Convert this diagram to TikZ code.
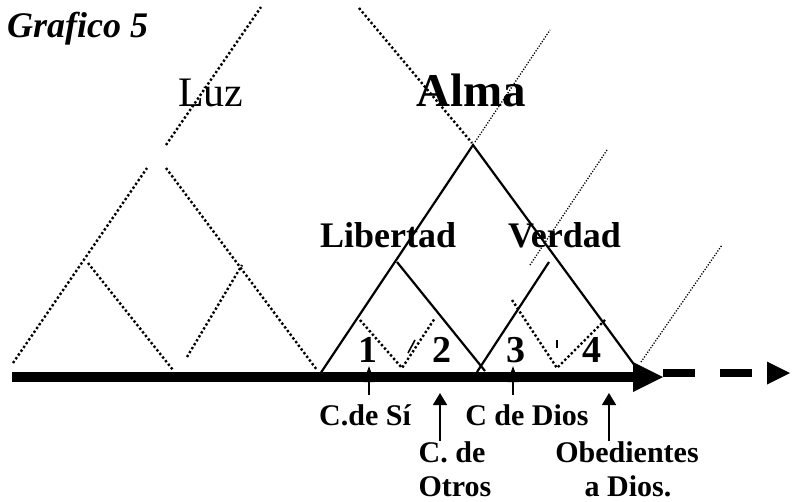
\documentclass[tikz,border=0pt]{standalone}
\usepackage{fontspec}
\setmainfont{Liberation Serif}
\usetikzlibrary{arrows.meta}
\tikzset{
    solida/.style={draw=black, line width=2.2pt},
    puntos/.style={draw=black, line width=2.4pt, dash pattern=on 2.3pt off 2.3pt},
    puntosfinos/.style={draw=black, line width=1.3pt, dash pattern=on 1.2pt off 1.6pt},
    eje/.style={draw=black, line width=10pt},
    ejeguion/.style={draw=black, line width=8pt, dash pattern=on 32pt off 25pt},
    flechita/.style={draw=black, line width=1.6pt, -{Triangle[length=12pt,width=14pt]}},
    oculta/.style={draw=black, line width=1.6pt, -{Triangle[length=16pt,width=11pt]}},
    titulo/.style={inner sep=0pt, anchor=base west, font=\fontsize{36}{43}\selectfont\bfseries\itshape},
    normal/.style={inner sep=0pt, anchor=base west, font=\fontsize{42}{50}\selectfont},
    grande/.style={inner sep=0pt, anchor=base west, font=\fontsize{47}{56}\selectfont\bfseries},
    etiqueta/.style={inner sep=0pt, anchor=base west, font=\fontsize{36}{43}\selectfont\bfseries},
    numero/.style={inner sep=0pt, anchor=base, font=\fontsize{38}{45}\selectfont\bfseries},
    rotulo/.style={inner sep=0pt, anchor=base, font=\fontsize{30}{36}\selectfont\bfseries},
}

\begin{document}
\begin{tikzpicture}[x=1pt, y=-1pt]
		\useasboundingbox (0,0) rectangle (794,501);
		% textos
		\node[titulo] (grafico) at (7,37) {Grafico 5};
		\node[normal] (luz) at (178,106) {Luz};
		\node[grande] (alma) at (416,106) {Alma};
		\node[etiqueta] (libertad) at (320,247) {Libertad};
		\node[etiqueta] (verdad) at (508,247) {Verdad};
		\node[numero] (uno) at (368,362) {1};
		\node[numero] (dos) at (442,362) {2};
		\node[numero] (tres) at (516,362) {3};
		\node[numero] (cuatro) at (592,362) {4};
		\node[rotulo] (cdesi) at (365,425) {C.de Sí};
		\node[rotulo] (cdedios) at (527,425) {C de Dios};
		\node[rotulo] (cde) at (452,462) {C. de};
		\node[rotulo] (otros) at (455,496) {Otros};
		\node[rotulo] (obedientes) at (627,462) {Obedientes};
		\node[rotulo] (adios) at (628,496) {a Dios.};

		% Luz
		\draw[puntos](13,363)--(147,168);
		\draw[puntos](166,145)--(261,7);
		\draw[puntos](166,168)--(317,370);
		\draw[puntos](88,263)--(173,370);
		\draw[puntos](187,357)--(242,265);

		% Alma
		\draw[puntos](359,8)--(472,143);
		\draw[puntosfinos](475,142)--(550,30);
		\draw[puntosfinos](530,265)--(607,150);
		\draw[puntosfinos](641,362)--(722,245);
		\draw[solida](320,374)--(473,145)--(641,374);
		\draw[solida](397,262)--(485,371);
		\draw[solida](477,372)--(549,262);
		\draw[puntos](360,320)--(402,368)--(435,318);
		\draw[puntos](512,300)--(557,368)--(605,320);
		\draw[line width=1.6pt](408,353)--(415,340);
		\draw[line width=2.2pt](557,340)--(557,348);

		% flechas de abajo
		\coordinate (sipunta) at (369,366);
		\coordinate (diospunta) at (513,366);
		\coordinate (otrospunta) at (440,393);
		\coordinate (obepunta) at (609,393);
		\draw[oculta] (sipunta) ++(0,29) -- (sipunta);
		\draw[oculta] (diospunta) ++(0,29) -- (diospunta);
		\draw[flechita] (cde.north -| otrospunta) -- (otrospunta);
		\draw[flechita] (obedientes.north -| obepunta) -- (obepunta);

		% eje
		\coordinate (ejeizq) at (12,377);
		\coordinate (ejefin) at (634,377);
		\coordinate (guion) at (663,373);
		\coordinate (guionfin) at (767,373);
		\draw[eje] (ejeizq) -- (ejefin);
		\fill (ejefin) ++(-1,-15) -- ++(30,15) -- ++(-30,15) -- cycle;
		\draw[ejeguion] (guion) -- (guionfin);
		\fill (guionfin) ++(0,-11.5) -- ++(23,11.5) -- ++(-23,11.5) -- cycle;
\end{tikzpicture}
\end{document}
